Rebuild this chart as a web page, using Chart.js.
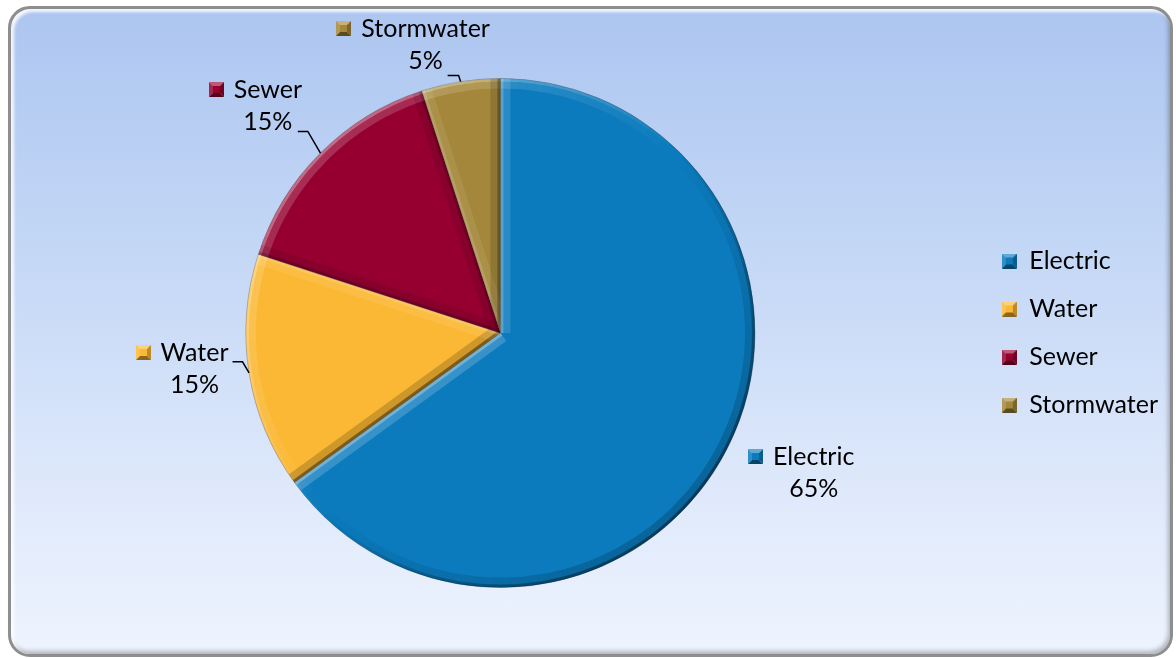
<!DOCTYPE html>
<html>
<head>
<meta charset="utf-8">
<script src="https://cdn.jsdelivr.net/npm/chart.js@4"></script>
<style>
    html, body { margin: 0; padding: 0; background: #fff; }
    #wrap  { position: relative; width: 1176px; height: 658px; }
    #frame {
        position: absolute; left: 8px; top: 6px; width: 1165px; height: 651px;
        box-sizing: border-box; border-radius: 22px; border: 3px solid #8e8e8e;
        background: linear-gradient(to bottom, #adc6f0 0%, #c5d8f6 40%, #dfe9fb 75%, #eef4fe 100%);
        box-shadow: inset 3px 3px 3px rgba(255,255,255,0.85), inset -2px -3px 4px rgba(0,0,0,0.25);
    }
    #pie { position: absolute; left: 0; top: 0; }
</style>
</head>
<body>
<div id="wrap">
    <div id="frame"></div>
    <canvas id="pie" width="1176" height="658"></canvas>
</div>
<script>
/* global Chart */

const CATEGORIES = ['Electric', 'Water', 'Sewer', 'Stormwater'];
const SHARES     = [65, 15, 15, 5];
const COLORS     = ['#0b7bbd', '#fbb834', '#950030', '#a4873a'];

const FONT = '25px Lato';

// ---------------------------------------------------------------------------
// Bevelled swatches (legend + data labels)
// ---------------------------------------------------------------------------

function shade(hex, amt) {
    const n = parseInt(hex.slice(1), 16);
    const c = [(n >> 16) & 255, (n >> 8) & 255, n & 255].map(v =>
        Math.round(amt >= 0 ? v + (255 - v) * amt : v * (1 + amt)));
    return `rgb(${c[0]},${c[1]},${c[2]})`;
}

function makeSwatch(hex, s = 15) {
    const cv = document.createElement('canvas');
    cv.width = s; cv.height = s;
    const g = cv.getContext('2d');
    const m = s / 2;
    const tri = (pts, col) => {
        g.beginPath();
        g.moveTo(pts[0], pts[1]); g.lineTo(pts[2], pts[3]); g.lineTo(m, m);
        g.closePath(); g.fillStyle = col; g.fill();
    };
    tri([0, 0, s, 0], shade(hex, 0.35));
    tri([0, 0, 0, s], shade(hex, 0.15));
    tri([s, 0, s, s], shade(hex, -0.25));
    tri([0, s, s, s], shade(hex, -0.45));
    g.fillStyle = hex;
    g.fillRect(4, 4, s - 8, s - 8);
    return cv;
}

const swatches = COLORS.map(c => makeSwatch(c));

// ---------------------------------------------------------------------------
// Bevel shading on the slices
// ---------------------------------------------------------------------------

const bevel = {
    id: 'bevel',
    afterDatasetsDraw(chart) {
        const ctx = chart.ctx;
        const L = [-Math.SQRT1_2, -Math.SQRT1_2];
        const paint = (draw, nx, ny) => {
            const s = nx * L[0] + ny * L[1];
            const rgb = s > 0 ? '255,255,255' : '0,0,0';
            const a = Math.abs(s);
            ctx.lineCap = 'butt';
            ctx.strokeStyle = `rgba(${rgb},${(a * 0.18).toFixed(3)})`;
            ctx.lineWidth = 20; ctx.beginPath(); draw(); ctx.stroke();
            ctx.strokeStyle = `rgba(${rgb},${(a * (s > 0 ? 0.3 : 0.4)).toFixed(3)})`;
            ctx.lineWidth = 6; ctx.beginPath(); draw(); ctx.stroke();
        };
        chart.getDatasetMeta(0).data.forEach(arc => {
            const { x, y, startAngle, endAngle, outerRadius: r } =
                arc.getProps(['x', 'y', 'startAngle', 'endAngle', 'outerRadius'], true);
            ctx.save();
            ctx.beginPath();
            ctx.moveTo(x, y); ctx.arc(x, y, r, startAngle, endAngle); ctx.closePath();
            ctx.clip();
            const step = Math.PI / 90;
            for (let a0 = startAngle; a0 < endAngle; a0 += step) {
                const a1 = Math.min(endAngle, a0 + step);
                const am = (a0 + a1) / 2;
                paint(() => ctx.arc(x, y, r, a0, a1), Math.cos(am), Math.sin(am));
            }
            paint(() => { ctx.moveTo(x, y); ctx.lineTo(x + r * Math.cos(startAngle), y + r * Math.sin(startAngle)); },
                Math.sin(startAngle), -Math.cos(startAngle));
            paint(() => { ctx.moveTo(x, y); ctx.lineTo(x + r * Math.cos(endAngle), y + r * Math.sin(endAngle)); },
                -Math.sin(endAngle), Math.cos(endAngle));
            ctx.restore();
        });
    },
};

// ---------------------------------------------------------------------------
// Data labels with leader lines
// ---------------------------------------------------------------------------

const sliceLabels = {
    id: 'sliceLabels',
    afterDraw(chart, args, opts) {
        const ctx = chart.ctx;
        const ds = chart.data.datasets[0];
        const total = ds.data.reduce((a, b) => a + b, 0);
        ctx.save();
        ctx.font = opts.font;
        ctx.fillStyle = '#000';
        ctx.textAlign = 'center';
        ctx.textBaseline = 'middle';
        chart.getDatasetMeta(0).data.forEach((arc, i) => {
            const { x, y, startAngle, endAngle, outerRadius: r } =
                arc.getProps(['x', 'y', 'startAngle', 'endAngle', 'outerRadius'], true);
            const [ox, oy] = opts.offsets[i];
            const tx = x + ox * r, ty = y + oy * r;
            const name = chart.data.labels[i];
            const w = ctx.measureText(name).width;
            ctx.fillText(name, tx, ty);
            ctx.fillText(Math.round(ds.data[i] / total * 100) + '%', tx, ty + opts.lineGap);
            const sw = swatches[i];
            ctx.drawImage(sw, Math.round(tx - w / 2 - 10 - sw.width), Math.round(ty - sw.height / 2));
            const ld = opts.leaders[i];
            if (ld) {
                const mid = (startAngle + endAngle) / 2;
                const ex = tx + ld[0], ey = ty + ld[1];
                ctx.beginPath();
                ctx.moveTo(x + r * Math.cos(mid), y + r * Math.sin(mid));
                ctx.lineTo(ex + ld[2], ey);
                ctx.lineTo(ex, ey);
                ctx.strokeStyle = '#000';
                ctx.lineWidth = 1.5;
                ctx.stroke();
            }
        });
        ctx.restore();
    },
};

// ---------------------------------------------------------------------------
// Chart
// ---------------------------------------------------------------------------

Chart.defaults.font.family = 'Lato';

const baseLabels = Chart.overrides.pie.plugins.legend.labels.generateLabels;

new Chart(document.getElementById('pie').getContext('2d'), {
    type: 'pie',
    data: {
        labels: CATEGORIES,
        datasets: [{
            data:            SHARES,
            backgroundColor: COLORS,
            borderColor:     'rgba(0,0,0,0.25)',
            borderWidth:     1,
        }],
    },
    options: {
        responsive: false,
        animation:  false,
        layout:     { padding: { left: 22, right: 8, top: 78, bottom: 70 } },
        plugins: {
            tooltip: { enabled: false },
            legend: {
                position: 'right',
                labels: {
                    usePointStyle: true,
                    boxWidth:      15,
                    boxHeight:     15,
                    padding:       23,
                    color:         '#000',
                    font:          { family: 'Lato', size: 25 },
                    generateLabels: chart => baseLabels(chart).map((it, i) =>
                        Object.assign(it, { pointStyle: swatches[i] })),
                },
            },
            sliceLabels: {
                font:    FONT,
                lineGap: 32,
                offsets: [[1.231, 0.486], [-1.202, 0.078], [-0.914, -0.957], [-0.294, -1.196]],
                leaders: [null, [38, 9, 10], [30, 42, 10], [22, 47, 11]],
            },
        },
    },
    plugins: [bevel, sliceLabels],
});
</script>
</body>
</html>
